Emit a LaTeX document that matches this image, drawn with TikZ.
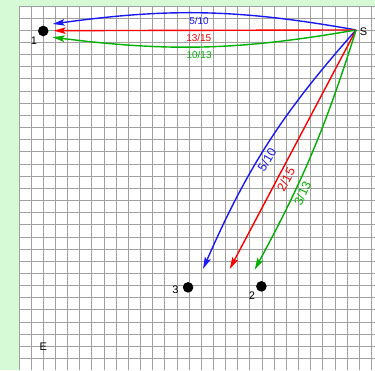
\documentclass[tikz,border=0pt]{standalone}
\usepackage{fontspec}
\setmainfont{Liberation Sans}
\usetikzlibrary{arrows.meta,positioning}

\definecolor{bggreen}{RGB}{214,250,214}
\definecolor{gridgray}{RGB}{160,160,160}
\definecolor{flowblue}{RGB}{25,25,245}
\definecolor{flowred}{RGB}{250,0,0}
\definecolor{flowgreen}{RGB}{0,175,0}

\begin{document}
\begin{tikzpicture}[
  x=1pt, y=1pt,
  state/.style={circle, fill=black, inner sep=0pt, minimum size=10.6pt},
  lbl/.style={inner sep=0pt, font=\fontsize{11}{13}\selectfont},
  prob/.style={font=\fontsize{10}{12}\selectfont, below, pos=0.52},
  slprob/.style={font=\fontsize{12.5}{14}\selectfont, sloped, below, inner sep=2.5pt},
  flow/.style={-{Stealth[length=12pt, width=6.5pt, inset=2.5pt]}, line width=1.4pt},
]
  % paper and grid
  \fill[bggreen] (0,0) rectangle (375,-370);
  \fill[white] (19,-6) rectangle (375,-370);
  \foreach \i in {0,...,29} {
    \draw[gridgray, line width=0.9pt] (19+12.17*\i,-6) -- (19+12.17*\i,-370);
    \draw[gridgray, line width=0.9pt] (19,-6-12.17*\i) -- (375,-6-12.17*\i);
  }
  \useasboundingbox (0,0) rectangle (375,-370);

  \node[state] (n1) at (43.3,-31) {};
  \node[state] (n3) at (188.3,-287.7) {};
  \node[state] (n2) at (261.7,-286.7) {};
  \coordinate (s) at (356.5,-30);

  \node[lbl, below left=1.5pt and 2.3pt of n1] (l1) {1};
  \node[lbl, left=4pt of n3, yshift=-2.3pt] (l3) {3};
  \node[lbl, below left=1pt and 2.3pt of n2] (l2) {2};
  \node[lbl, right=3.5pt of s, yshift=-1.7pt] (ls) {S};
  \node[lbl] (le) at (43.3,-347.3) {E};

  % arrow tips
  \coordinate (t1b) at (52.7,-24);
  \coordinate (t1r) at (53.7,-30.7);
  \coordinate (t1g) at (52.7,-37.3);
  \coordinate (t3b) at (203.3,-269.3);
  \coordinate (t3r) at (230,-269.3);
  \coordinate (t2g) at (255,-270);

  \draw[flow, flowblue] (s) to[bend right=9] node[prob] {5/10} (t1b);
  \draw[flow, flowred] (s) -- node[prob] {13/15} (t1r);
  \draw[flow, flowgreen] (s) to[bend left=8.5] node[prob] {10/13} (t1g);

  \draw[flow, flowblue] (s) to[bend right=9] node[slprob, pos=0.56] {5/10} (t3b);
  \draw[flow, flowred] (s) -- node[slprob, pos=0.61] {2/15} (t3r);
  \draw[flow, flowgreen] (s) to[bend left=5.5] node[slprob, pos=0.67] {3/13} (t2g);
\end{tikzpicture}
\end{document}
